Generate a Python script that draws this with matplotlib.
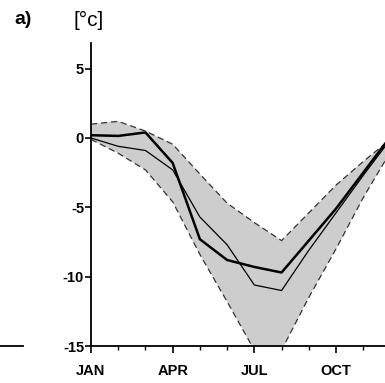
import matplotlib
matplotlib.use("Agg")
import matplotlib.pyplot as plt
from matplotlib.lines import Line2D
import numpy as np

months = ["JAN", "FEB", "MAR", "APR", "MAY", "JUN", "JUL", "AUG", "SEP", "OCT", "NOV", "DEC"]
mean_thick = [0.2, 0.15, 0.4, -1.8, -7.3, -8.8, -9.3, -9.7, -7.4, -5.1, -2.5, 0.1]
mean_thin = [0.0, -0.6, -0.9, -2.3, -5.7, -7.7, -10.6, -11.0, -8.1, -5.4, -2.7, -0.1]
upper = [1.0, 1.2, 0.5, -0.45, -2.6, -4.7, -6.1, -7.4, -5.4, -3.4, -1.7, -0.1]
lower = [-0.1, -1.1, -2.3, -4.6, -8.4, -11.8, -15.3, -15.3, -11.5, -8.0, -4.3, -1.0]
yticks = [5, 0, -5, -10, -15]
ytick_labels = ["5", "0", "-5", "-10", "-15"]
xtick_labels = ["JAN", "APR", "JUL", "OCT"]

plt.rcParams['font.family'] = ['Liberation Sans Narrow', 'Liberation Sans', 'DejaVu Sans']

W, H = 385, 383
fig = plt.figure(figsize=(W / 100, H / 100), dpi=100)
ax = fig.add_axes([91 / W, (H - 346) / H, (W - 91) / W, (346 - 43) / H])

x = np.arange(len(months))
ax.fill_between(x, lower, upper, facecolor="#cdcdcd", edgecolor="none", zorder=1)
ax.plot(x, upper, color="#333333", lw=0.9, ls=(0, (5, 3)), zorder=2)
ax.plot(x, lower, color="#333333", lw=0.9, ls=(0, (5, 3)), zorder=2)
ax.plot(x, mean_thin, color="black", lw=0.9, zorder=3)
ax.plot(x, mean_thick, color="black", lw=1.8, zorder=4)

ax.set_xlim(0, 10.8)
ax.set_ylim(-15, 6.85)
for s in ["top", "right"]:
    ax.spines[s].set_visible(False)
ax.spines["left"].set_linewidth(1.3)
ax.spines["bottom"].set_linewidth(1.3)

ax.set_yticks(yticks)
ax.set_yticklabels(ytick_labels)
ax.set_xticks([0, 3, 6, 9])
ax.set_xticklabels(xtick_labels)
ax.set_xticks([1, 2, 4, 5, 7, 8, 10], minor=True)
ax.tick_params(axis="y", direction="out", length=4, width=1.2, labelsize=10.5, pad=1)
ax.tick_params(axis="x", which="major", direction="out", length=5, width=1.2, labelsize=10.5, pad=8)
ax.tick_params(axis="x", which="minor", direction="out", length=3, width=1.0)
for lbl in ax.get_xticklabels() + ax.get_yticklabels():
    lbl.set_fontweight("bold")

fig.text(23 / W, 1 - 20 / H, "a)", fontsize=14, fontweight="bold", ha="center", va="center")
fig.text(89 / W, 1 - 20 / H, "[°c]", fontsize=15, ha="center", va="center")
fig.add_artist(Line2D([0, 23 / W], [(H - 346) / H, (H - 346) / H], color="black", lw=1.3))

fig.savefig("out.png", dpi=100)
